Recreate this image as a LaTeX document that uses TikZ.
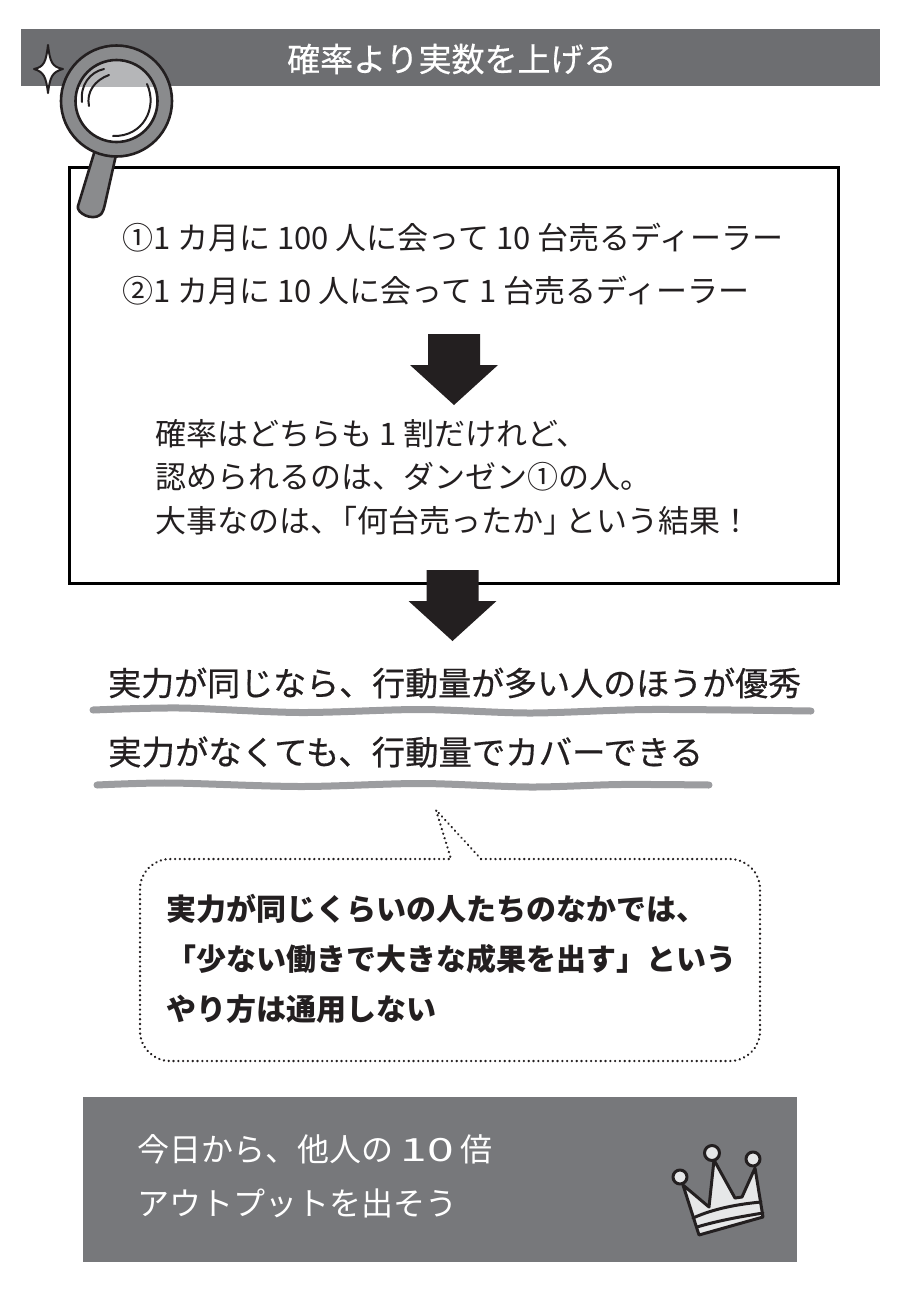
\documentclass[tikz,border=0pt]{standalone}
\usepackage{fontspec}
\setmainfont{Noto Sans CJK JP}
\newfontfamily\medfont[FakeBold=0.5]{Noto Sans CJK JP}
\usepackage{tikz}
\definecolor{bandgray}{HTML}{6D6E71}
\definecolor{footgray}{HTML}{77787B}
\definecolor{linegray}{HTML}{9C9DA0}
\definecolor{inkblack}{HTML}{231F20}
\definecolor{ringgray}{HTML}{8A8B8D}
\definecolor{lensgray}{HTML}{B5B6B8}
\definecolor{crownwhite}{HTML}{E6E7E8}
\begin{document}
\begin{tikzpicture}[x=1pt,y=-1pt,
   txt/.style n args={2}{anchor=west,inner sep=0pt,text=#1,font=\fontsize{#2}{#2}\selectfont},
   med/.style n args={2}{anchor=west,inner sep=0pt,text=#1,font=\fontsize{#2}{#2}\medfont},
   bold/.style={anchor=west,inner sep=0pt,text=inkblack,font=\fontsize{30}{30}\selectfont\bfseries},
   ink/.style={draw=inkblack,line width=2.6pt,line join=round,line cap=round},
   wavy/.style={draw=linegray,line width=7pt,line cap=round}]
\useasboundingbox (0,0) rectangle (900,1299);
\fill[bandgray] (21,29) rectangle (880,86);
\node[med={white}{33}] (title) at (287,59) {確率より実数を上げる};
% star and glass
\draw[ink,fill=white,line width=2pt] (48,45) .. controls (50,62) and (52,67) .. (63,69)
   .. controls (52,72) and (50,77) .. (48,93) .. controls (46,77) and (44,72) .. (34,69)
   .. controls (44,67) and (46,62) .. cycle;
\draw[line width=3pt] (69,167) rectangle (838,583);
\draw[ink,fill=ringgray] (95,150) -- (78,206) .. controls (76,213) and (92,221) .. (100,215) .. controls (103,213) and (104,208) .. (105,204) -- (116,155) -- cycle;
\draw[ink,fill=ringgray] (116.5,101) circle (55.5);
\fill[white] (116.5,101) circle (41);
\begin{scope}
\clip (21,29) rectangle (880,86);
\fill[lensgray] (116.5,101) circle (41);
\end{scope}
\draw[ink] (116.5,101) circle (41);
\draw[ink,line width=2pt] (82,102) .. controls (80,85) and (90,72) .. (104,69);
\draw[ink,line width=2pt] (89,106) .. controls (86,92) and (95,80) .. (109,75);
\draw[ink,line width=2pt] (147,84) .. controls (158,108) and (143,137) .. (113,136);
% upper box
\node[txt={inkblack}{31}] (dealerA) at (122,238) {①1 カ月に 100 人に会って 10 台売るディーラー};
\node[txt={inkblack}{31}] (dealerB) at (122,291) {②1 カ月に 10 人に会って 1 台売るディーラー};
\foreach \x/\y in {454/334,452.5/570} {
   \fill[inkblack] (\x-26,\y) -- (\x+26,\y) -- (\x+26,\y+31) -- (\x+44,\y+31) -- (\x,\y+71) -- (\x-44,\y+31) -- (\x-26,\y+31) -- cycle;
}
\node[txt={inkblack}{31}] (ratio) at (155,434) {確率はどちらも 1 割だけれど、};
\node[txt={inkblack}{31}] (praise) at (155,477) {認められるのは、ダンゼン①の人。};
\node[txt={inkblack}{31}] (result) at (155,521) {大事なのは、\kern-15pt「何台売ったか」\kern-9pt という結果！};
% underlined lines
\node[med={inkblack}{33}] (lineA) at (108,683) {実力が同じなら、行動量が多い人のほうが優秀};
\draw[wavy] plot[smooth] coordinates {(93,710) (180,708) (300,712.5) (420,709.5) (530,713) (650,709.5) (811,711)};
\node[med={inkblack}{33.4}] (lineB) at (108,752) {実力がなくても、行動量でカバーできる};
\draw[wavy] plot[smooth] coordinates {(97,785) (170,783) (300,786.5) (420,783.5) (530,787) (620,784.5) (709,785)};
% callout
\draw[inkblack,line width=2.5pt,line cap=round,dash pattern=on 0.1pt off 4.7pt] (481,859) [rounded corners=30pt] -- (760,859) -- (760,1061) -- (140,1061) -- (140,859) [sharp corners] -- (451,859) -- (436,810) -- (481,859);
\node[bold] (noteA) at (166,909) {実力が同じくらいの人たちのなかでは、};
\node[bold] (noteB) at (166,959) {「少ない働きで大きな成果を出す」という};
\node[bold] (noteC) at (166,1009) {やり方は通用しない};
% footer
\fill[footgray] (83,1097) rectangle (797,1262);
\node[txt={white}{32}] (todayA) at (137,1149) {今日から、他人の \scalebox{1.5}[1]{10} 倍};
\node[txt={white}{32}] (todayB) at (137,1203) {アウトプットを出そう};
% crown
\draw[ink,fill=crownwhite,line width=3pt] (683,1185) -- (709,1207) -- (714,1160) -- (735,1198) -- (742,1197) -- (755,1168) -- (763,1217) -- (699,1235) -- cycle;
\draw[ink,line width=3pt] (693,1218) .. controls (715,1208) and (740,1204) .. (761,1202);
\draw[ink,line width=3pt] (697,1227) .. controls (720,1220) and (745,1216) .. (763,1213);
\foreach \x/\y/\r in {680/1177/7,712/1153/7.5,753/1159/7} {
   \draw[ink,fill=crownwhite,line width=3pt] (\x,\y) circle (\r);
}
\end{tikzpicture}
\end{document}
